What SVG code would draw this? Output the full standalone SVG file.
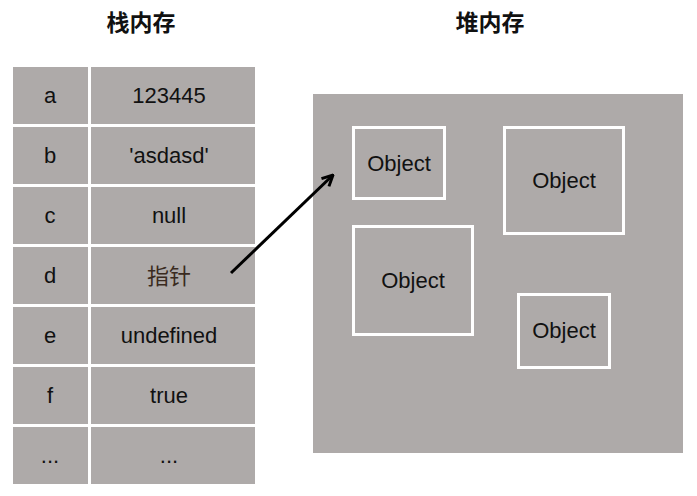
<svg xmlns="http://www.w3.org/2000/svg" width="697" height="496" viewBox="0 0 697 496">
  <style>
    .cell { fill: #AEAAA9; }
    .t { font-family: "Liberation Sans", Arial, sans-serif; font-size: 22px; fill: #111; text-anchor: middle; }
    .cjk { font-family: "Noto Sans CJK SC", sans-serif; font-size: 22px; fill: #3a2a20; text-anchor: middle; }
    .title { font-family: "Noto Sans CJK SC", sans-serif; font-size: 23px; font-weight: bold; fill: #111; text-anchor: middle; }
    .obj { fill: none; stroke: #fff; stroke-width: 3; }
  </style>
  <defs>
    <marker id="arrow" viewBox="0 0 10 10" refX="9" refY="5" markerWidth="4.5" markerHeight="4.5" orient="auto" markerUnits="strokeWidth">
      <path d="M1,1 L9,5 L1,9" fill="none" stroke="#000" stroke-width="2.2"/>
    </marker>
  </defs>
  <rect width="697" height="496" fill="#fff"/>

  <g id="stack-title"><text class="title" x="141" y="31">栈内存</text></g>
  <g id="heap-title"><text class="title" x="490" y="31">堆内存</text></g>

  <g id="stack">
    <g id="row-a"><rect class="cell" x="13" y="67" width="75" height="57"/><rect class="cell" x="91" y="67" width="164" height="57"/><text class="t" x="50" y="103">a</text><text class="t" x="169" y="103">123445</text></g>
    <g id="row-b"><rect class="cell" x="13" y="127" width="75" height="57"/><rect class="cell" x="91" y="127" width="164" height="57"/><text class="t" x="50" y="163">b</text><text class="t" x="169" y="163">'asdasd'</text></g>
    <g id="row-c"><rect class="cell" x="13" y="187" width="75" height="57"/><rect class="cell" x="91" y="187" width="164" height="57"/><text class="t" x="50" y="223">c</text><text class="t" x="169" y="223">null</text></g>
    <g id="row-d"><rect class="cell" x="13" y="247" width="75" height="57"/><rect class="cell" x="91" y="247" width="164" height="57"/><text class="t" x="50" y="283">d</text><text class="cjk" x="169" y="284">指针</text></g>
    <g id="row-e"><rect class="cell" x="13" y="307" width="75" height="57"/><rect class="cell" x="91" y="307" width="164" height="57"/><text class="t" x="50" y="343">e</text><text class="t" x="169" y="343">undefined</text></g>
    <g id="row-f"><rect class="cell" x="13" y="367" width="75" height="57"/><rect class="cell" x="91" y="367" width="164" height="57"/><text class="t" x="50" y="403">f</text><text class="t" x="169" y="403">true</text></g>
    <g id="row-more"><rect class="cell" x="13" y="427" width="75" height="57"/><rect class="cell" x="91" y="427" width="164" height="57"/><text class="t" x="50" y="463">...</text><text class="t" x="169" y="463">...</text></g>
  </g>

  <g id="heap">
    <rect class="cell" x="313" y="94" width="370" height="359"/>
  </g>
  <g id="object-1"><rect class="obj" x="353.5" y="127.5" width="91" height="71"/><text class="t" x="399" y="171">Object</text></g>
  <g id="object-2"><rect class="obj" x="504.5" y="127.5" width="119" height="106"/><text class="t" x="564" y="188">Object</text></g>
  <g id="object-3"><rect class="obj" x="353.5" y="226.5" width="119" height="108"/><text class="t" x="413" y="288">Object</text></g>
  <g id="object-4"><rect class="obj" x="518.5" y="294.5" width="91" height="73"/><text class="t" x="564" y="338">Object</text></g>

  <g id="connectors">
    <line x1="231" y1="273" x2="333" y2="175" stroke="#000" stroke-width="3" marker-end="url(#arrow)"/>
  </g>
</svg>
